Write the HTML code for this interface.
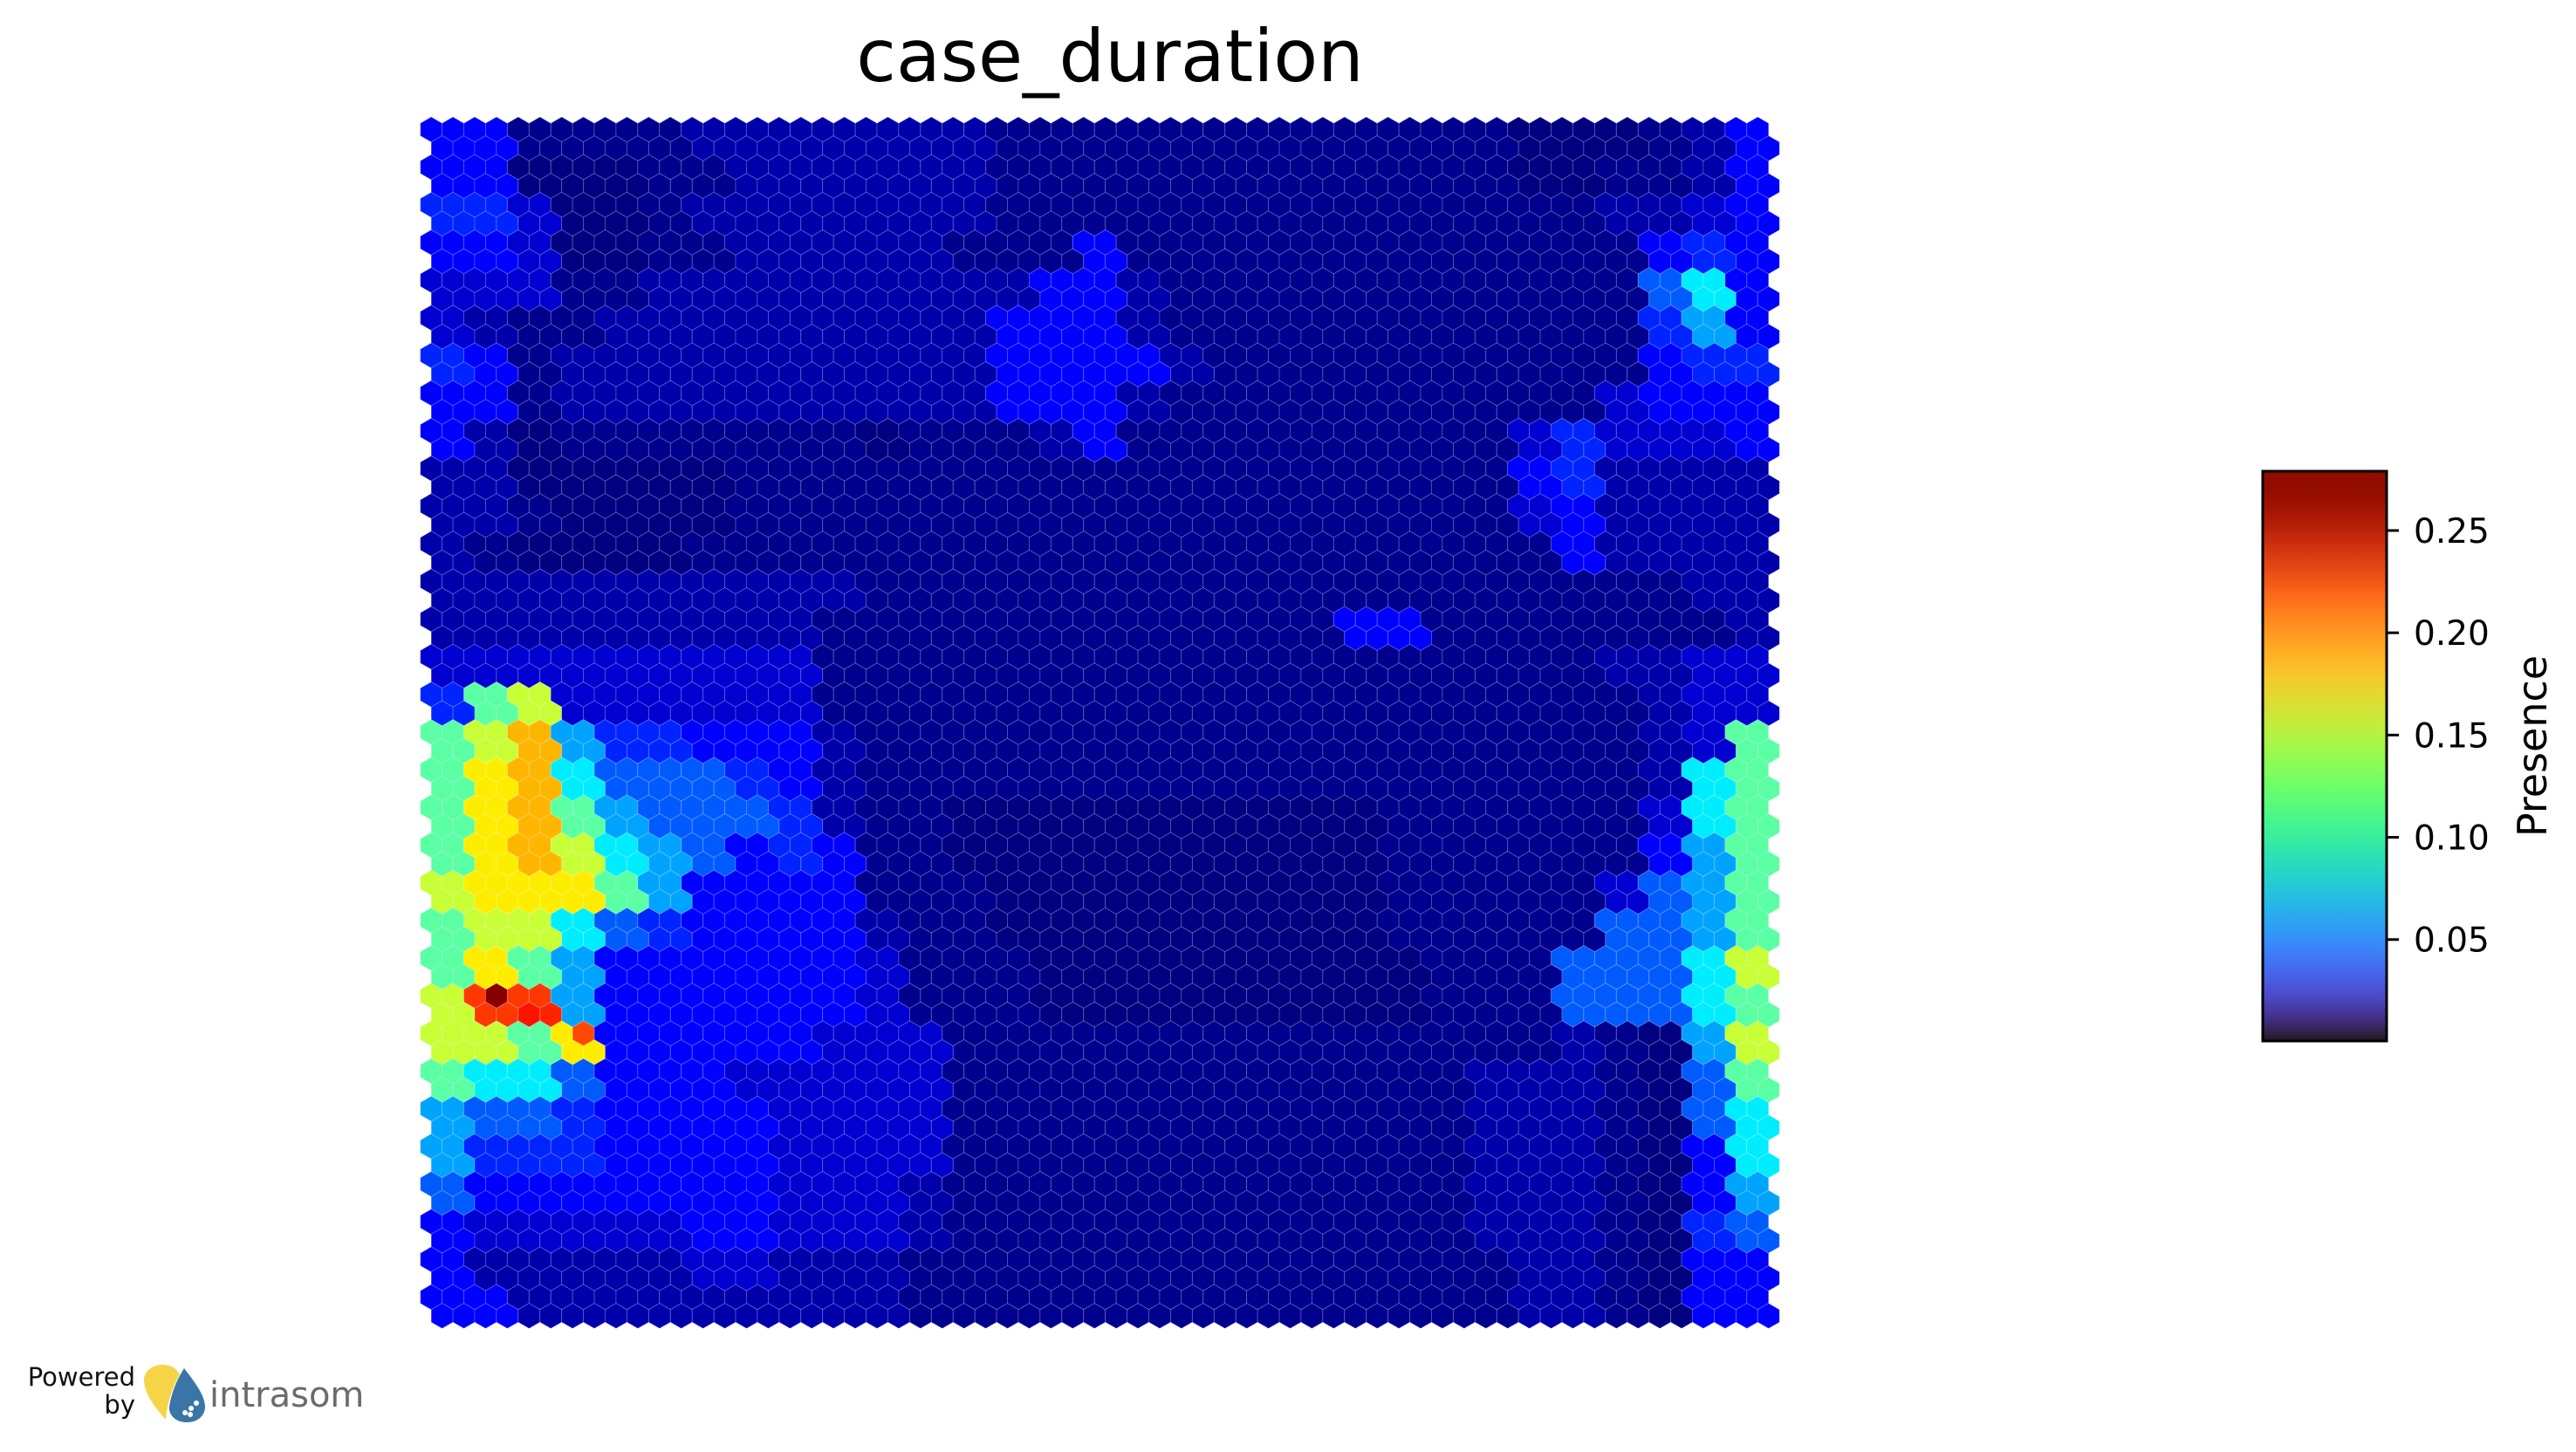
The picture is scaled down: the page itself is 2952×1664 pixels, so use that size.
<!DOCTYPE html>
<html>
<head>
<meta charset="utf-8">
<style>
html,body{margin:0;padding:0;background:#fff;}
svg{display:block;}
text{font-family:"DejaVu Sans","Liberation Sans",sans-serif;}
</style>
</head>
<body>
<svg id="chart" width="2952" height="1664" viewBox="0 0 2952 1664" xmlns="http://www.w3.org/2000/svg">
  <defs>
    <linearGradient id="turboGrad" x1="0" y1="1" x2="0" y2="0"></linearGradient>
  </defs>
  <text x="1272" y="93" font-size="83" text-anchor="middle" fill="#000">case_duration</text>
  <g id="hexLayer"></g>
  <g id="cbar">
    <rect x="2593" y="540" width="142" height="653" fill="url(#turboGrad)" stroke="#000" stroke-width="3"></rect>
    <g id="cbarTicks"></g>
    <text transform="translate(2918,855) rotate(-90)" font-size="46" text-anchor="middle" fill="#000">Presence</text>
  </g>
  <g>
    <text x="155" y="1588" font-size="29" text-anchor="end" fill="#111" font-family="Liberation Sans, sans-serif">Powered</text>
    <text x="155" y="1620" font-size="29" text-anchor="end" fill="#111" font-family="Liberation Sans, sans-serif">by</text>
    <path d="M190 1627 C175 1610 165 1595 165 1582 C165 1570 176 1564 186 1564 C196 1564 202 1568 206 1575 C198 1590 192 1605 190 1627 Z" fill="#f5d547"></path>
    <path d="M211 1568 C220 1580 235 1598 235 1612 C235 1623 226 1630 214 1630 C202 1630 193 1622 194 1612 C196 1598 202 1582 211 1568 Z" fill="#3a75a8"></path>
    <circle cx="212" cy="1619" r="3" fill="#fff"></circle>
    <circle cx="219" cy="1614" r="3" fill="#fff"></circle>
    <circle cx="225" cy="1608" r="3" fill="#fff"></circle>
    <circle cx="218" cy="1621" r="3" fill="#fff"></circle>
    <text x="240" y="1612" font-size="40" fill="#6b6b6b" font-family="Liberation Sans, sans-serif">intrasom</text>
  </g>
</svg>
<script>
// Coarse SOM grid (each char covers 2x2 hex cells), 32 rows x 31 cols
const gridRows = [
"eebbbbcccccccbbbbbbbbbbbbaaabce",
"eeaaabbccccccbbbbbbbbbbbbaabbce",
"ffdaabcccccccbbbbbbbbbbbbbbccde",
"eedaabbcccccbbbebbbbbbbbbbbbefe",
"dddbbccccccccceecbbbbbbbbbbbgie",
"dcbbccccccccceeecbbbbbbbbbbbfhe",
"febcccccccccceeeecbbbbbbbbbbeff",
"eebcccccccccceeecbbbbbbbbbbdeee",
"ecabbbbbbbabbbcebbbbbbbbbdfddde",
"ccaaaaabbbbbbbbbbbbbbbbbbefcccc",
"ccbaaaabbbbbbbbbbbbbbbbbbdecccc",
"cbaaaabbbbbbbbbbbbbbbbbbbbecccc",
"ccccccccccbbbbbbbbbbbbbbbbbbbcc",
"cccccccccbbbbbbbbbbbbeebbbbbbbc",
"ddddddddd"+"bbbbbbbbbbbbbbbbb"+"bccdd",
"fjkdddddd"+"bb"+"bbbbbbbbbbbbbbb"+"bbcdd",
"jkmhffeeecb"+"bbbbbbbbbbbbbbb"+"bbcdj",
"jlmigggfecb"+"bbbbbbbbbbbbbbb"+"bbcij",
"jlmjhgggfcb"+"baaaaaaaaaabbbb"+"bbdij",
"jlmkihgefeb"+"baaaaaaaaaabbbb"+"bbehj",
"kllljheeeeb"+"bbaaaaaaaaabbbb"+"bdghj",
"jkkigfeeeec"+"bbaaaaaaaaabbbb"+"bgghj",
"jljheeeeeed"+"bbbaaaaaaaaabbb"+"gggik",
"knnheeeeeed"+"bbbaaaaaaaaabbb"+"gggij",
"kkjleeeeedd"+"dbbbbbbbbbbbbbb"+"cbahk",
"jiigeeedddd"+"dbbbbbbbbbbbbcc"+"cbagj",
"hggfeeeeddd"+"dbbbbbbbbbbbbcc"+"cbagi",
"hfffeeeeddd"+"dbbbbbbbbbbbbcc"+"cbaei",
"geeeeeeeddd"+"cbbbbbbbbbbbbcc"+"cbaeh",
"edddddeeddd"+"cbbbbbbbbbbbbcc"+"cbafg",
"ecccccddccc"+"bbbbbbbbbbbbbbc"+"cbaee",
"eeccccccccc"+"bbbbbbbbbbbbbbc"+"cbaee"
];
// value for each level code
const levelCodes = ["a","b","c","d","e","f","g","h","i","j","k","l","m","n","o"];
const levelValues = [0.0, 0.004, 0.012, 0.022, 0.035, 0.045, 0.06, 0.08, 0.1, 0.13, 0.16, 0.18, 0.195, 0.23, 0.27];
// single-hex hot spots: [row, col, value]
const hotRows = [46, 47, 47, 48];
const hotCols = [3, 4, 5, 7];
const hotVals = [0.278, 0.24, 0.235, 0.225];
const cbTicks = [0.05, 0.10, 0.15, 0.20, 0.25];
const cbTickLabels = ["0.05", "0.10", "0.15", "0.20", "0.25"];
const cbMin = 0.0004, cbMax = 0.279;

const NS = "http://www.w3.org/2000/svg";
const NROWS = 64, NCOLS = 62;
const hexW = 24.92, hexR = hexW / Math.sqrt(3), rowStep = hexW * Math.sqrt(3) / 2;
const gx0 = 481.7, gy0 = 134;
function hx(r, c) { return gx0 + hexW / 2 + hexW * c + (r % 2 ? hexW / 2 : 0); }
function hy(r) { return gy0 + hexR + rowStep * r; }
function jet(v) {
  const t = Math.max(0, Math.min(1, v / 0.28));
  const f = (x) => Math.max(0, Math.min(1, 1.5 - Math.abs(4 * t - x)));
  return "rgb(" + Math.round(255 * f(3)) + "," + Math.round(255 * f(2)) + "," + Math.round(255 * f(1)) + ")";
}
function turbo(x) {
  x = Math.max(0, Math.min(1, x));
  const r = 0.13572138 + x*(4.61539260 + x*(-42.66032258 + x*(132.13108234 + x*(-152.94239396 + x*59.28637943))));
  const g = 0.09140261 + x*(2.19418839 + x*(4.84296658 + x*(-14.18503333 + x*(4.27729857 + x*2.82956604))));
  const b = 0.10667330 + x*(12.64194608 + x*(-60.58204836 + x*(110.36276771 + x*(-89.90310912 + x*27.34824973))));
  const c = (u) => Math.round(255 * Math.max(0, Math.min(1, u)));
  return "rgb(" + c(r) + "," + c(g) + "," + c(b) + ")";
}
function cellValue(r, c) {
  for (let k = 0; k < hotRows.length; k++) {
    if (hotRows[k] === r && hotCols[k] === c) return hotVals[k];
  }
  const row = gridRows[Math.min(gridRows.length - 1, r >> 1)];
  const ci = Math.min(row.length - 1, Math.floor(c / NCOLS * row.length));
  const idx = levelCodes.indexOf(row[ci]);
  return idx >= 0 ? levelValues[idx] : 0;
}
const layer = document.getElementById("hexLayer");
for (let r = 0; r < NROWS; r++) {
  for (let c = 0; c < NCOLS; c++) {
    const cx = hx(r, c), cy = hy(r);
    let pts = [];
    for (let k = 0; k < 6; k++) {
      const a = Math.PI / 180 * (60 * k - 90);
      pts.push((cx + hexR * Math.cos(a)).toFixed(2) + "," + (cy + hexR * Math.sin(a)).toFixed(2));
    }
    const p = document.createElementNS(NS, "polygon");
    p.setAttribute("points", pts.join(" "));
    p.setAttribute("fill", jet(cellValue(r, c)));
    p.setAttribute("stroke", "rgba(255,255,255,0.22)");
    p.setAttribute("stroke-width", "0.9");
    
    
    layer.appendChild(p);
  }
}
// colorbar gradient
const grad = document.getElementById("turboGrad");
for (let i = 0; i <= 40; i++) {
  const s = document.createElementNS(NS, "stop");
  s.setAttribute("offset", (i / 40 * 100) + "%");
  s.setAttribute("stop-color", turbo(i / 40));
  grad.appendChild(s);
}
const cbTop = 540, cbBot = 1193, cbRight = 2735;
function cbY(v) { return cbBot - (v - cbMin) / (cbMax - cbMin) * (cbBot - cbTop); }
const tg = document.getElementById("cbarTicks");
for (let i = 0; i < cbTicks.length; i++) {
  const y = cbY(cbTicks[i]);
  const ln = document.createElementNS(NS, "line");
  ln.setAttribute("x1", cbRight); ln.setAttribute("x2", cbRight + 14);
  ln.setAttribute("y1", y); ln.setAttribute("y2", y);
  ln.setAttribute("stroke", "#000"); ln.setAttribute("stroke-width", "3");
  
  
  tg.appendChild(ln);
  const t = document.createElementNS(NS, "text");
  t.setAttribute("x", cbRight + 31); t.setAttribute("y", y + 14);
  t.setAttribute("font-size", "39");
  t.setAttribute("fill", "#000");
  t.textContent = cbTickLabels[i];
  
  
  tg.appendChild(t);
}
</script>
</body>
</html>
